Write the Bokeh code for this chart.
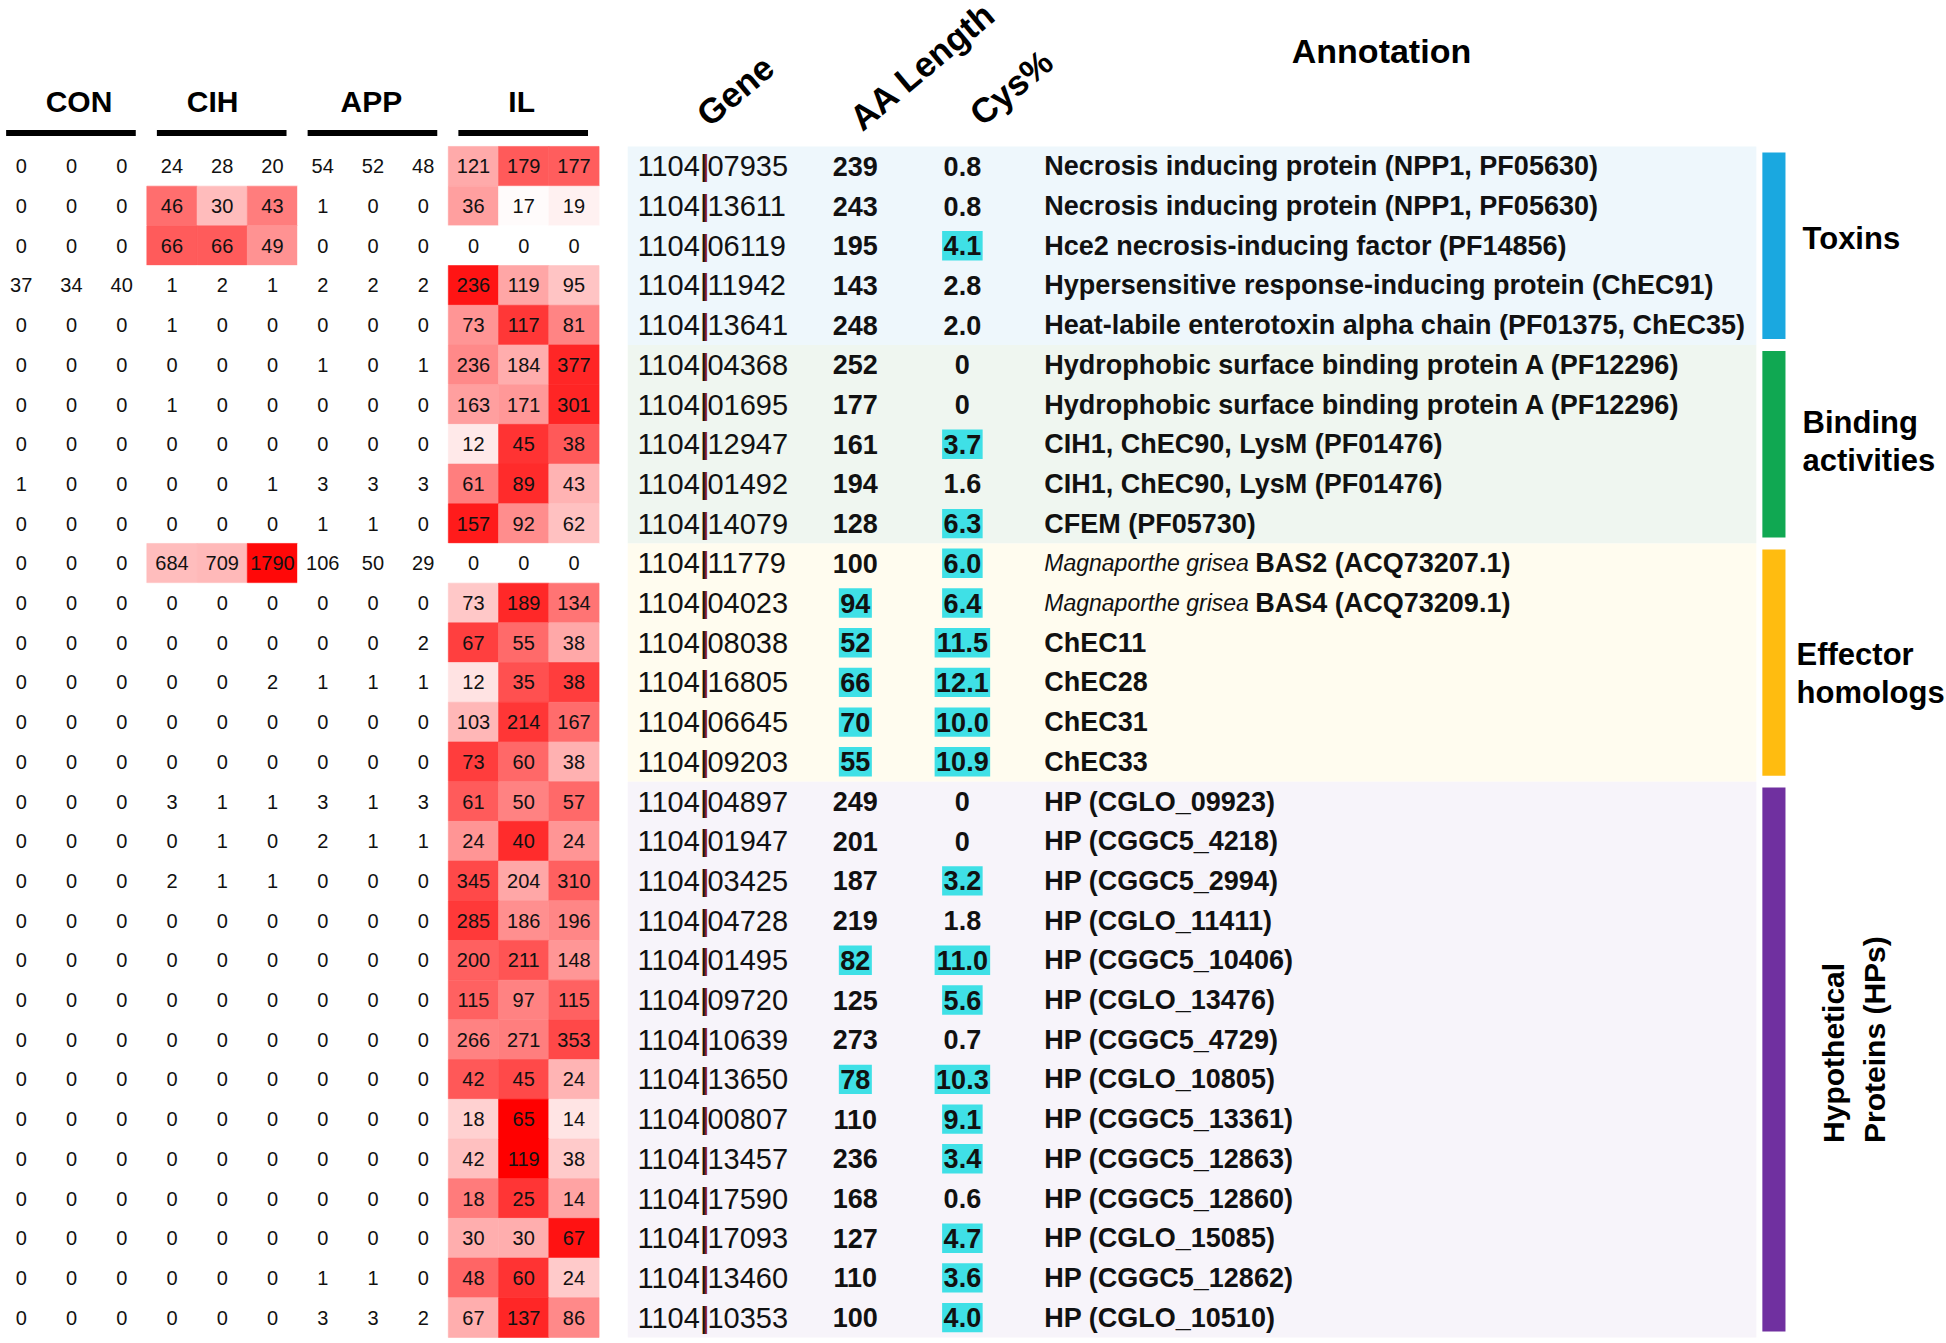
import numpy as np
from bokeh.plotting import figure
from bokeh.models import ColumnDataSource, Range1d, LinearColorMapper
from bokeh.transform import transform
from bokeh.core.properties import value
from bokeh.embed import file_html
from bokeh.resources import INLINE

# ---------------- data ----------------
groups = ["CON", "CIH", "APP", "IL"]
reps_per_group = 3

counts = [
    [0, 0, 0, 24, 28, 20, 54, 52, 48, 121, 179, 177],
    [0, 0, 0, 46, 30, 43, 1, 0, 0, 36, 17, 19],
    [0, 0, 0, 66, 66, 49, 0, 0, 0, 0, 0, 0],
    [37, 34, 40, 1, 2, 1, 2, 2, 2, 236, 119, 95],
    [0, 0, 0, 1, 0, 0, 0, 0, 0, 73, 117, 81],
    [0, 0, 0, 0, 0, 0, 1, 0, 1, 236, 184, 377],
    [0, 0, 0, 1, 0, 0, 0, 0, 0, 163, 171, 301],
    [0, 0, 0, 0, 0, 0, 0, 0, 0, 12, 45, 38],
    [1, 0, 0, 0, 0, 1, 3, 3, 3, 61, 89, 43],
    [0, 0, 0, 0, 0, 0, 1, 1, 0, 157, 92, 62],
    [0, 0, 0, 684, 709, 1790, 106, 50, 29, 0, 0, 0],
    [0, 0, 0, 0, 0, 0, 0, 0, 0, 73, 189, 134],
    [0, 0, 0, 0, 0, 0, 0, 0, 2, 67, 55, 38],
    [0, 0, 0, 0, 0, 2, 1, 1, 1, 12, 35, 38],
    [0, 0, 0, 0, 0, 0, 0, 0, 0, 103, 214, 167],
    [0, 0, 0, 0, 0, 0, 0, 0, 0, 73, 60, 38],
    [0, 0, 0, 3, 1, 1, 3, 1, 3, 61, 50, 57],
    [0, 0, 0, 0, 1, 0, 2, 1, 1, 24, 40, 24],
    [0, 0, 0, 2, 1, 1, 0, 0, 0, 345, 204, 310],
    [0, 0, 0, 0, 0, 0, 0, 0, 0, 285, 186, 196],
    [0, 0, 0, 0, 0, 0, 0, 0, 0, 200, 211, 148],
    [0, 0, 0, 0, 0, 0, 0, 0, 0, 115, 97, 115],
    [0, 0, 0, 0, 0, 0, 0, 0, 0, 266, 271, 353],
    [0, 0, 0, 0, 0, 0, 0, 0, 0, 42, 45, 24],
    [0, 0, 0, 0, 0, 0, 0, 0, 0, 18, 65, 14],
    [0, 0, 0, 0, 0, 0, 0, 0, 0, 42, 119, 38],
    [0, 0, 0, 0, 0, 0, 0, 0, 0, 18, 25, 14],
    [0, 0, 0, 0, 0, 0, 0, 0, 0, 30, 30, 67],
    [0, 0, 0, 0, 0, 0, 1, 1, 0, 48, 60, 24],
    [0, 0, 0, 0, 0, 0, 3, 3, 2, 67, 137, 86],
]

genes = ["1104|07935", "1104|13611", "1104|06119", "1104|11942", "1104|13641",
         "1104|04368", "1104|01695", "1104|12947", "1104|01492", "1104|14079",
         "1104|11779", "1104|04023", "1104|08038", "1104|16805", "1104|06645",
         "1104|09203", "1104|04897", "1104|01947", "1104|03425", "1104|04728",
         "1104|01495", "1104|09720", "1104|10639", "1104|13650", "1104|00807",
         "1104|13457", "1104|17590", "1104|17093", "1104|13460", "1104|10353"]

aa_length = [239, 243, 195, 143, 248, 252, 177, 161, 194, 128,
             100, 94, 52, 66, 70, 55, 249, 201, 187, 219,
             82, 125, 273, 78, 110, 236, 168, 127, 110, 100]

cys_pct = [0.8, 0.8, 4.1, 2.8, 2.0, 0, 0, 3.7, 1.6, 6.3,
           6.0, 6.4, 11.5, 12.1, 10.0, 10.9, 0, 0, 3.2, 1.8,
           11.0, 5.6, 0.7, 10.3, 9.1, 3.4, 0.6, 4.7, 3.6, 4.0]

annotation_italic = [""] * 10 + ["Magnaporthe grisea", "Magnaporthe grisea"] + [""] * 18

annotation_text = [
    "Necrosis inducing protein (NPP1, PF05630)",
    "Necrosis inducing protein (NPP1, PF05630)",
    "Hce2 necrosis-inducing factor (PF14856)",
    "Hypersensitive response-inducing protein (ChEC91)",
    "Heat-labile enterotoxin alpha chain (PF01375, ChEC35)",
    "Hydrophobic surface binding protein A (PF12296)",
    "Hydrophobic surface binding protein A (PF12296)",
    "CIH1, ChEC90, LysM (PF01476)",
    "CIH1, ChEC90, LysM (PF01476)",
    "CFEM (PF05730)",
    "BAS2  (ACQ73207.1)",
    "BAS4  (ACQ73209.1)",
    "ChEC11", "ChEC28", "ChEC31", "ChEC33",
    "HP (CGLO_09923)", "HP (CGGC5_4218)", "HP (CGGC5_2994)", "HP (CGLO_11411)",
    "HP (CGGC5_10406)", "HP (CGLO_13476)", "HP (CGGC5_4729)", "HP (CGLO_10805)",
    "HP (CGGC5_13361)", "HP (CGGC5_12863)", "HP (CGGC5_12860)", "HP (CGLO_15085)",
    "HP (CGGC5_12862)", "HP (CGLO_10510)",
]

categories = ["Toxins", "Binding activities", "Effector homologs", "Hypothetical Proteins (HPs)"]
category_sizes = [5, 5, 6, 14]
category_label_lines = [["Toxins"], ["Binding", "activities"], ["Effector", "homologs"],
                        ["Hypothetical", "Proteins (HPs)"]]

column_headers = ["Gene", "AA Length", "Cys%"]

# thresholds used for cyan highlighting
AA_SHORT = 100      # AA length below this highlighted
CYS_RICH = 3.0      # Cys% at or above this highlighted

# ---------------- styles / layout ----------------
FONT = value("Liberation Sans")
band_colors = ["#eef7fc", "#eff6f0", "#fffcef", "#f7f4fa"]
bar_colors = ["#1aa8e0", "#10a852", "#ffbc10", "#7030a0"]
HILITE = "#3fe0e6"

PX_X = 50.25   # pixels per heatmap column
PX_Y = 39.7    # pixels per row
W, H = 1946, 1343
X_START = -20.7 / PX_X
Y_START = -165.8 / PX_Y

X_GENE = 12.265
X_AA = 16.60
X_CYS = 18.73
X_ANN = 20.36
X_BAND_L, X_BAND_R = 12.07, 34.53
X_BAR_L, X_BAR_R = 34.65, 35.11
X_CAT = 35.45
ITALIC_SHIFT_PX = 211
group_label_dx = [0.15, -0.19, -0.03, -0.04]

GENE_FS = 29
NUM_FS = 27
ANN_FS = 27
ITAL_FS = 23
CAT_FS = 31

nrow = len(genes)
ncol = len(groups) * reps_per_group

p = figure(width=W, height=H, output_backend="svg", toolbar_location=None,
           x_range=Range1d(X_START, X_START + W / PX_X),
           y_range=Range1d(Y_START + H / PX_Y, Y_START),
           x_axis_type=None, y_axis_type=None, min_border=0,
           outline_line_color=None, background_fill_color="white",
           border_fill_color="white")
p.grid.visible = False

# ---------------- heatmap ----------------
arr = np.array(counts, dtype=float)
mu = arr.mean(axis=1, keepdims=True)
sd = arr.std(axis=1, keepdims=True)
z = (arr - mu) / sd
rows, cols = np.meshgrid(np.arange(nrow), np.arange(ncol), indexing="ij")
hm = ColumnDataSource(dict(row=rows.ravel(), col=cols.ravel(), z=z.ravel(),
                           label=[str(int(v)) for v in arr.ravel()]))
t = np.linspace(0, 1, 256)
palette = ["#%02x%02x%02x" % (255, int(round(255 * (1 - s))), int(round(255 * (1 - s)))) for s in t]
mapper = LinearColorMapper(palette=palette, low=0, high=3.0, low_color="#ffffff", high_color="#ff0000")
p.rect(x="col", y="row", width=1, height=1, source=hm,
       fill_color=transform("z", mapper), line_color=transform("z", mapper), line_width=0.6)
p.text(x="col", y="row", text="label", source=hm, text_align="center", text_baseline="middle",
       text_font=FONT, text_font_size="20px", text_color="#111111")

# group headers and bars
gidx = np.arange(len(groups))
p.text(x=gidx * reps_per_group + (reps_per_group - 1) / 2 + np.array(group_label_dx),
       y=[-1.64] * len(groups), text=groups,
       text_align="center", text_baseline="middle", text_font=FONT, text_font_size="30px",
       text_font_style="bold", text_color="black")
p.segment(x0=gidx * reps_per_group - 0.3, x1=gidx * reps_per_group + 2.28,
          y0=[-0.84] * len(groups), y1=[-0.84] * len(groups), line_color="black", line_width=6)

# ---------------- table ----------------
starts = np.concatenate([[0], np.cumsum(category_sizes)[:-1]])
ends = np.cumsum(category_sizes) - 1
p.quad(left=X_BAND_L, right=X_BAND_R, top=starts - 0.5, bottom=ends + 0.5,
       fill_color=band_colors, line_color=None)
p.quad(left=X_BAR_L, right=X_BAR_R, top=starts - 0.5 + 0.15, bottom=ends + 0.5 - 0.15,
       fill_color=bar_colors, line_color=None)

rr = np.arange(nrow)
# gene ids (pipe in dark red)
p.text(x=[X_GENE] * nrow, y=rr, text=genes, text_align="left", text_baseline="middle",
       text_font=FONT, text_font_size=f"{GENE_FS}px", text_color="#111111")
pipe_x = [X_GENE + len(g.split("|")[0]) * 0.556 * GENE_FS / PX_X for g in genes]
p.text(x=pipe_x, y=rr, text=["|"] * nrow, text_align="left", text_baseline="middle",
       text_font=FONT, text_font_size=f"{GENE_FS}px", text_color="#8b1a1a")


def text_width_px(s, fs):
    w = 0.0
    for ch in s:
        w += 0.278 if ch == "." else 0.556
    return w * fs


aa_lab = [str(v) for v in aa_length]
cys_lab = ["0" if v == 0 else f"{v:.1f}" for v in cys_pct]
aa_hi = [i for i, v in enumerate(aa_length) if v < AA_SHORT]
cys_hi = [i for i, v in enumerate(cys_pct) if v >= CYS_RICH]
p.rect(x=[X_AA] * len(aa_hi), y=aa_hi,
       width=[(text_width_px(aa_lab[i], NUM_FS) + 3) / PX_X for i in aa_hi], height=0.74,
       fill_color=HILITE, line_color=None)
p.rect(x=[X_CYS] * len(cys_hi), y=cys_hi,
       width=[(text_width_px(cys_lab[i], NUM_FS) + 3) / PX_X for i in cys_hi], height=0.74,
       fill_color=HILITE, line_color=None)
p.text(x=[X_AA] * nrow, y=rr, text=aa_lab, text_align="center", text_baseline="middle",
       text_font=FONT, text_font_size=f"{NUM_FS}px", text_font_style="bold", text_color="#111111")
p.text(x=[X_CYS] * nrow, y=rr, text=cys_lab, text_align="center", text_baseline="middle",
       text_font=FONT, text_font_size=f"{NUM_FS}px", text_font_style="bold", text_color="#111111")

# annotations
it_rows = [i for i, s in enumerate(annotation_italic) if s]
p.text(x=[X_ANN] * len(it_rows), y=it_rows, text=[annotation_italic[i] for i in it_rows],
       text_align="left", text_baseline="middle", text_font=FONT, text_font_size=f"{ITAL_FS}px",
       text_font_style="italic", text_color="#111111")
ann_x = [X_ANN + (ITALIC_SHIFT_PX / PX_X if annotation_italic[i] else 0) for i in range(nrow)]
p.text(x=ann_x, y=rr, text=annotation_text, text_align="left", text_baseline="middle",
       text_font=FONT, text_font_size=f"{ANN_FS}px", text_font_style="bold", text_color="#111111")

# column headers
p.text(x=[13.54, 16.58, 18.97], y=[-1.2, -1.1, -1.22], text=column_headers, angle=40, angle_units="deg",
       text_align="left", text_baseline="alphabetic", text_font=FONT, text_font_size="35px",
       text_font_style="bold", text_color="black")
p.text(x=[27.07], y=[-2.9], text=["Annotation"], text_align="center", text_baseline="middle",
       text_font=FONT, text_font_size="34px", text_font_style="bold", text_color="black")

# category labels
cat_x = [X_CAT, X_CAT, X_CAT - 0.12]
cat_y = [[1.83], [6.46, 7.40], [12.30, 13.25]]
for k in range(3):
    p.text(x=[cat_x[k]] * len(category_label_lines[k]), y=cat_y[k], text=category_label_lines[k],
           text_align="left", text_baseline="middle", text_font=FONT, text_font_size=f"{CAT_FS}px",
           text_font_style="bold", text_color="black")
p.text(x=[36.07, 36.88], y=[24.6, 24.6], text=category_label_lines[3], angle=90, angle_units="deg",
       text_align="left", text_baseline="middle", text_font=FONT, text_font_size="30px",
       text_font_style="bold", text_color="black")

open("out.html", "w").write(file_html(p, INLINE))
